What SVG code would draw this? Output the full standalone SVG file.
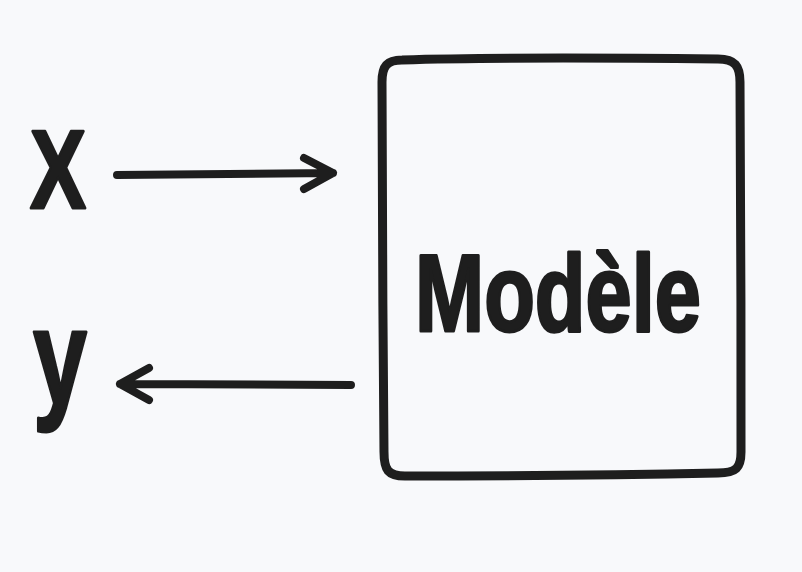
<svg xmlns="http://www.w3.org/2000/svg" width="802" height="572" viewBox="0 0 802 572">
  <style>
    .ink { stroke: #1e1e1e; fill: none; stroke-linecap: round; stroke-linejoin: round; }
    .label { fill: #1e1e1e; stroke: #1e1e1e; stroke-width: 3; stroke-linejoin: round; font-family: "Liberation Sans", Arial, sans-serif; font-weight: 700; }
  </style>
  <rect width="802" height="572" fill="#f8f9fb"/>

  <g id="input-x">
    <text class="label" x="30" y="208" font-size="112" textLength="56" lengthAdjust="spacingAndGlyphs">X</text>
  </g>

  <g id="output-y">
    <text class="label" x="33" y="404" font-size="136" textLength="54" lengthAdjust="spacingAndGlyphs">y</text>
  </g>

  <g id="model">
    <path class="ink" stroke-width="9" d="M402 60 C500 57 620 58 718 59 C735 59 740 66 740 82 C741 200 741 330 741 452 C741 468 736 473 718 473 C620 475 500 476 405 476 C388 476 384 470 384 452 C383 330 382 200 382 82 C382 66 387 60 402 60 Z"/>
    <text class="label" x="415" y="331" font-size="110" textLength="286" lengthAdjust="spacingAndGlyphs">Modèle</text>
  </g>

  <g id="connectors">
    <path class="ink" stroke-width="8" d="M117 175 L333 173 M304 158 L333 173 L304 189"/>
    <path class="ink" stroke-width="8" d="M351 385 L120 384 M149 368 L120 384 L149 400"/>
  </g>
</svg>
